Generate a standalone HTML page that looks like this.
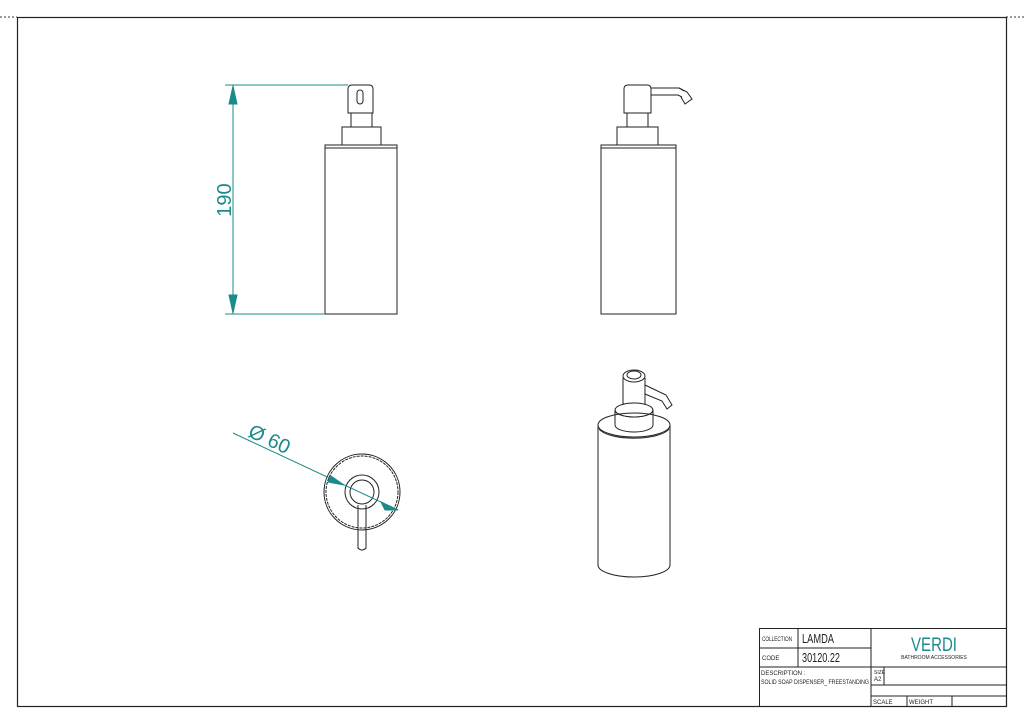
<!DOCTYPE html>
<html><head><style>
html,body{margin:0;padding:0;background:#fff;}
svg{display:block;}
text{font-family:"Liberation Sans",sans-serif;}
</style></head><body>
<svg width="1024" height="724" viewBox="0 0 1024 724" xmlns="http://www.w3.org/2000/svg">
<line x1="0" y1="17" x2="17" y2="17" stroke="#333" stroke-dasharray="2,2"/>
<line x1="1006" y1="17" x2="1024" y2="17" stroke="#333" stroke-dasharray="2,2"/>
<rect x="17.5" y="17.5" width="989" height="689" fill="none" stroke="#222" stroke-width="1.2"/>
<g fill="none" stroke="#222" stroke-width="1">
<rect x="325" y="145" width="72" height="169"/>
<line x1="325" y1="148" x2="397" y2="148"/>
<rect x="342" y="127" width="39" height="18"/>
<rect x="351" y="113" width="21" height="14"/>
<path d="M348 113 V89 Q348 85 352 85 H369 Q373 85 373 89 V113 Z"/>
<rect x="357" y="90" width="6" height="14" rx="3"/>
<rect x="601" y="145" width="75" height="169"/>
<line x1="601" y1="148" x2="676" y2="148"/>
<rect x="617" y="127" width="41" height="18"/>
<rect x="627" y="113" width="21" height="14"/>
<path d="M624 113 V89 Q624 85 628 85 H647 Q651 85 651 89 V113 Z"/>
<path d="M651 88 L679 88 L684 91 M651 95 L678 95 L682 97"/>
<path d="M679 88 L687 92 L692 99 L685 104 L681 97"/>
<circle cx="362" cy="492" r="38"/>
<circle cx="362" cy="492" r="36" stroke-dasharray="3,1"/>
<circle cx="362" cy="492" r="17"/>
<circle cx="362" cy="492" r="12"/>
<path d="M358 505 V548 Q362 552 366 548 V505"/>
<path d="M598 425 V565 A36 12 0 0 0 670 565 V425"/>
<ellipse cx="634" cy="425" rx="36" ry="12"/>
<path d="M599 429 A36 12 0 0 0 669 429"/>
<path d="M615 425 V410 A19 7 0 0 0 653 410 V425"/>
<path d="M615 425 A19 7 0 0 0 653 425"/>
<ellipse cx="634" cy="410" rx="19" ry="7"/>
<path d="M623 405 V378 M645 405 V378"/>
<ellipse cx="634" cy="376" rx="11" ry="6"/>
<ellipse cx="634" cy="375" rx="7" ry="4"/>
<path d="M645 385 L666 395 L672 405 L667 409 L662 401 L645 394"/>
</g>
<g stroke="#1b8a8a" stroke-width="1" fill="#1b8a8a">
<line x1="225" y1="85" x2="348" y2="85"/>
<line x1="225" y1="314" x2="325" y2="314"/>
<line x1="233" y1="85" x2="233" y2="314"/>
<path d="M233 86 L229 104 L237 104 Z"/>
<path d="M233 313 L229 295 L237 295 Z"/>
<line x1="233" y1="433" x2="398" y2="510"/>
<path d="M344 485 L328 482 L331 476 Z"/>
<path d="M381 502 L398 510 L385 510 Z"/>
</g>
<text x="0" y="0" transform="translate(231,200) rotate(-90)" font-size="20" fill="#1b8a8a" text-anchor="middle">190</text>
<text x="0" y="0" transform="translate(247,436) rotate(25)" font-size="20" fill="#1b8a8a">Ø 60</text>
<g fill="none" stroke="#222" stroke-width="1">
<rect x="759.5" y="628.5" width="247" height="78"/>
<line x1="871" y1="628" x2="871" y2="706"/>
<line x1="759" y1="648" x2="871" y2="648"/>
<line x1="759" y1="667" x2="1006" y2="667"/>
<line x1="798" y1="628" x2="798" y2="667"/>
<line x1="871" y1="685" x2="1006" y2="685"/>
<line x1="871" y1="696" x2="1006" y2="696"/>
<line x1="884" y1="667" x2="884" y2="685"/>
<line x1="907" y1="696" x2="907" y2="706"/>
<line x1="952" y1="696" x2="952" y2="706"/>
</g>
<g fill="#222" font-size="6">
<text x="762" y="641" textLength="30" lengthAdjust="spacingAndGlyphs">COLLECTION</text>
<text x="762" y="660">CODE</text>
<text x="761" y="675">DESCRIPTION :</text>
<text x="761" y="684" textLength="108" lengthAdjust="spacingAndGlyphs">SOLID SOAP DISPENSER_ FREESTANDING</text>
<text x="874" y="674" font-size="5">SIZE</text>
<text x="874" y="681">A2</text>
<text x="873" y="704">SCALE</text>
<text x="909" y="704">WEIGHT</text>
<text x="934" y="659" font-size="5" text-anchor="middle">BATHROOM ACCESSORIES</text>
</g>
<text x="802" y="643" font-size="13" fill="#222" textLength="32" lengthAdjust="spacingAndGlyphs">LAMDA</text>
<text x="802" y="662" font-size="13" fill="#222" textLength="38" lengthAdjust="spacingAndGlyphs">30120.22</text>
<text x="934" y="651" font-size="19" fill="#1b8a8a" text-anchor="middle" textLength="46" lengthAdjust="spacingAndGlyphs">VERDI</text>
</svg>
</body></html>
